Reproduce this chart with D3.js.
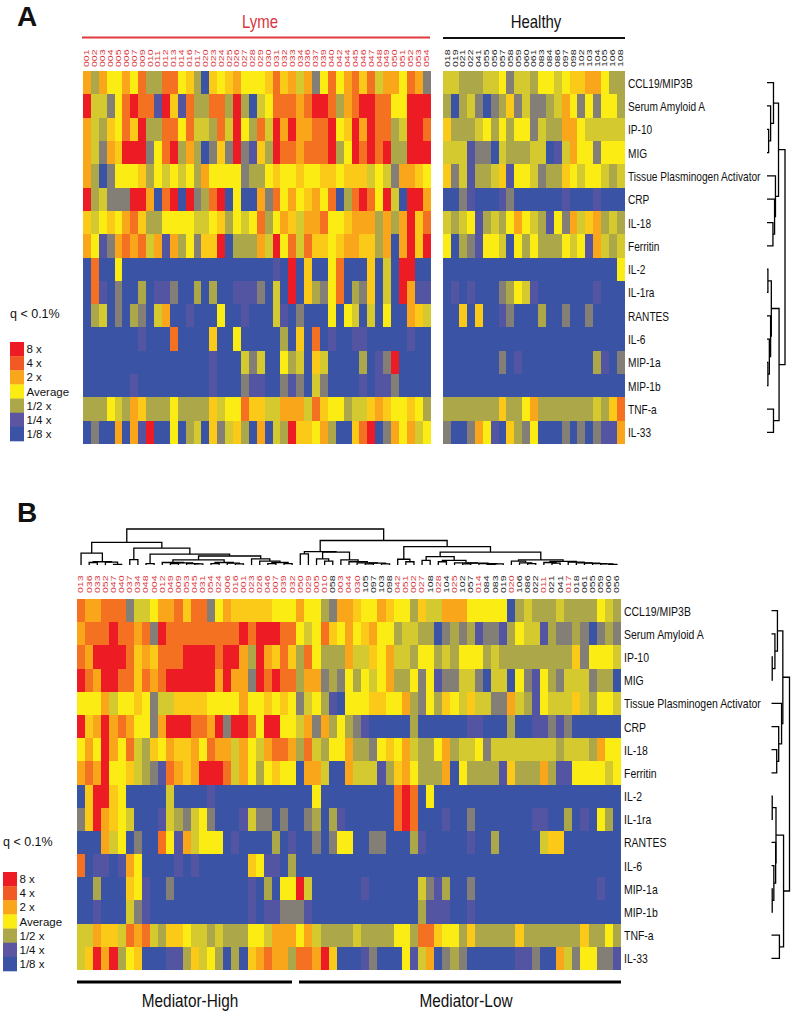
<!DOCTYPE html>
<html>
<head>
<meta charset="utf-8">
<script src="https://cdn.jsdelivr.net/npm/d3@7"></script>
<style>
  html, body { margin: 0; padding: 0; background: #fff; }
  svg { display: block; }
  text { font-family: "Liberation Sans", Arial, sans-serif; fill: #111; }
</style>
</head>
<body>
<div id="chart"></div>
<script>
const mediators = ['CCL19/MIP3B', 'Serum Amyloid A', 'IP-10', 'MIG', 'Tissue Plasminogen Activator', 'CRP',
  'IL-18', 'Ferritin', 'IL-2', 'IL-1ra', 'RANTES', 'IL-6', 'MIP-1a', 'MIP-1b', 'TNF-a', 'IL-33'];

const lymeIds = ['001','002','003','004','005','006','007','009','010','011','012','013','014','016','017','020','023','024','025','026','027','028',
  '029','030','031','032','033','034','036','037','039','040','042','044','045','046','047','048','049','050','051','052','053','054'];
const healthyIds = ['018','019','021','022','041','055','056','057','058','059','060','061','083','084','086','097','098','102','103','104','105','106','108'];
const clusteredIds = ['013','036','033','052','047','040','037','034','048','004','012','049','009','053','045','031','054','024','006','016',
  '001','023','026','046','007','039','032','050','029','005','010','058','003','044','030','105','097','103','098','042',
  '051','002','027','108','028','104','025','102','057','014','084','083','019','020','106','086','022','011','021','041',
  '017','018','061','055','059','060','056'];

// each digit is one cell, an index into levelLog2 (fold change vs. average, log2)
const levelLog2 = [-3, -2.2, -1.5, -1, -0.5, 0, 0.5, 1, 1.7, 3];

const lymeRows = [
  '7375575833885630656755' + '5686747258578684775872',
  '9442589881961833883930' + '4588878998378998855999',
  '7436586933885844384953' + '8497977889569798834998',
  '7427699925893730262921' + '6398878889359898933999',
  '7302555635454537555523' + '3565565566566645427765',
  '9342229970890923890500' + '7285756758038985940997',
  '6456578633555544563545' + '8357647785567773737968',
  '7512787847173526690333' + '7495848665677663707969',
  '0800500000000000000000' + '0010906005800060409900',
  '0810200301120030300111' + '2040906325803260409711',
  '0340203204700100050010' + '0041020005054040500764',
  '0000000100080000600500' + '0003060801001100000100',
  '0000000000000000100042' + '4005340640000301290000',
  '0000001000000000100021' + '1002120420000101120000',
  '3335437633353333645586' + '6447774865534467655653',
  '0200707190050340624630' + '7043966573006890275745'
];

const healthyRows = [
  '44333445244355456677533',
  '30342023624223475252553',
  '63334535355243377544444',
  '44412204333440147552555',
  '62413346155423365455434',
  '00210001200000010001000',
  '43451343575431527467343',
  '50321554053533354517434',
  '00000000000000000000005',
  '01010002354100000001000',
  '00606001200030020020000',
  '00000000000000000000000',
  '00000002010000000003102',
  '00000000000000000000000',
  '33333336335733333334368',
  '20027510632500020202117'
];

const clusteredRows = [
  '8778882445' + '7786882576' + '6666555755' + '3277655765' + '5364477755' + '5550343334' + '3333543',
  '7888988782' + '9888888888' + '9899988545' + '8657567553' + '4433023231' + '2213544132' + '2320232',
  '8799998676' + '8889999899' + '7397686385' + '3337446574' + '4355343555' + '3433333333' + '3625554',
  '9879988687' + '8999999797' + '7298988377' + '2325354573' + '3525122442' + '0440521532' + '4442330',
  '5557455652' + '4466665555' + '7556565245' + '3105556655' + '7325365464' + '4227431544' + '4643554',
  '9679787552' + '7999887929' + '9859955472' + '7353210000' + '0300000011' + '0003001121' + '2000000',
  '5759758436' + '5766758774' + '7547887384' + '3557332565' + '7433573445' + '2444444443' + '4443755',
  '7879556432' + '1876799984' + '7535655077' + '4007444136' + '7533370533' + '3316333731' + '1555545',
  '0699650000' + '0400001000' + '0000000005' + '0000000008' + '9805000000' + '0000000000' + '0000000',
  '2697654000' + '1432452000' + '1422020023' + '0310000008' + '9800010020' + '0000001100' + '3010530',
  '0007450200' + '8517455501' + '0000301002' + '0255002200' + '0310000010' + '0300000466' + '0000000',
  '8011017500' + '0010100000' + '0651103000' + '0000000000' + '0000000000' + '0000000000' + '0000000',
  '0030006510' + '0200000000' + '0103055940' + '0000010000' + '0042130020' + '0000000000' + '0000100',
  '0010004210' + '0000000000' + '0101122210' + '0000000000' + '0031110010' + '0000000000' + '0000000',
  '4476648784' + '3665443433' + '3554777574' + '3333433335' + '5388655363' + '3333633333' + '3363353',
  '4697935600' + '0113645303' + '0678773887' + '9600012000' + '5147023200' + '0000112007' + '4255221'
];

// dendrograms: [merge height, left, right], a plain number is a leaf
const rowTreeA = [1,
  [.64, [.36, 0, [.2, 1, [.09, 2, 3]]], [.47, 4, [.42, 5, [.33, 6, 7]]]],
  [.67, [.24, [.05, 8, 9], [.2, 10, [.13, 11, [.05, 12, 13]]]], [.36, 14, 15]]];

const rowTreeB = [1,
  [.63, [.33, 0, [.19, 1, [.04, 2, 3]]], [.56, 4, [.4, 5, [.29, 6, 7]]]],
  [.67, [.25, [.04, 8, 9], [.23, 10, [.13, 11, [.04, 12, 13]]]], [.44, 14, 15]]];

const columnTreeB = [1,
  [.63,
    [.33, 0, [.09, [.07, 1, 2], [.08, 3, [.02, 4, 5]]]],
    [.47, [.15, 6, 7], [.30, [.04, 8, 9],
      [.25,
        [.14, [.07, 10, [.06, [.04, 11, 12], [.04, 13, [.03, 14, 15]]]], [.07, [.04, 16, 17], [.05, 18, [.03, 19, 20]]]],
        [.17, 21, [.11, 22, [.07, [.04, 23, 24], [.04, 25, 26]]]]]]]],
  [.68,
    [.37, [.31, 27, 28], [.36, [.17, 29, [.11, 30, 31]], [.14, 32, [.09, 33, [.06, 34, [.05, [.03, 35, 36], [.03, 37, 38]]]]]]],
    [.51, [.16, 39, [.09, 40, 41]],
      [.36,
        [.23, [.13, 42, 43], [.13, [.09, 44, 45], [.06, 46, [.05, [.03, 47, 48], [.04, 49, [.03, [.02, 50, 51], 52]]]]]],
        [.14, [.11, 53, [.06, 54, [.04, 55, 56]]], [.1, [.07, 57, [.05, 58, 59]], [.08, 60, [.06, 61, [.05, 62, [.04, 63, [.03, 64, [.02, 65, 66]]]]]]]]]]]];

const legendLog2 = [3, 2, 1, 0, -1, -2, -3];
const legendLabels = ['8 x', '4 x', '2 x', 'Average', '1/2 x', '1/4 x', '1/8 x'];
const legendColors = ['#ed1c24', '#f15a24', '#faa61a', '#fbec14', '#aca84a', '#5b55a2', '#3a53a4'];

const width = 793, height = 1015;
const redText = '#d9363c';

const color = d3.scaleLinear().domain(legendLog2).range(legendColors);

const svg = d3.select('#chart').append('svg')
  .attr('width', width)
  .attr('height', height)
  .attr('viewBox', `0 0 ${width} ${height}`);

function drawCells(rows, ids, x0, x1, y0, y1) {
  const x = d3.scaleBand().domain(d3.range(ids.length)).range([x0, x1]);
  const y = d3.scaleBand().domain(d3.range(rows.length)).range([y0, y1]);
  const cells = rows.flatMap((row, r) => Array.from(row, (d, c) => ({ r, c, v: levelLog2[+d] })));

  svg.append('g')
    .attr('shape-rendering', 'crispEdges')
    .selectAll('rect')
    .data(cells)
    .join('rect')
    .attr('x', d => x(d.c))
    .attr('y', d => y(d.r))
    .attr('width', x.bandwidth())
    .attr('height', y.bandwidth())
    .attr('fill', d => color(d.v));
  return { x, y };
}

function drawIds(ids, x, bottom) {
  // small rotated patient ids, stretched along the text like the original
  svg.append('g').selectAll('text')
    .data(ids)
    .join('text')
    .attr('transform', (d, i) => `translate(${x(i) + x.bandwidth() / 2 + 2.4},${bottom}) rotate(-90) scale(1.5,0.95)`)
    .style('font-size', '7px')
    .style('fill', d => healthyIds.includes(d) ? '#222' : redText)
    .text(d => d);
}

// no narrow face installed, so labels are squeezed horizontally
function drawMediators(y, xPos, squeeze) {
  svg.append('g').selectAll('text')
    .data(mediators)
    .join('text')
    .attr('transform', (d, i) => `translate(${xPos},${y(i) + y.bandwidth() / 2 + 5}) scale(${squeeze},1)`)
    .style('font-size', '13.6px')
    .text(d => d);
}

// horizontal = leaves stacked along y, heights going right
function drawTree(tree, leafPos, heightScale, horizontal) {
  const root = d3.hierarchy(tree, d => Array.isArray(d) ? d.slice(1) : null);
  root.eachAfter(n => {
    n.h = n.children ? n.data[0] : 0;
    n.pos = n.children ? d3.mean(n.children, c => c.pos) : leafPos(n.data);
  });
  const pt = (pos, h) => horizontal ? [heightScale(h), pos] : [pos, heightScale(h)];
  const line = d3.line();
  svg.append('g').selectAll('path')
    .data(root.descendants().filter(n => n.children))
    .join('path')
    .attr('d', n => {
      const [a, b] = n.children;
      return line([pt(a.pos, a.h), pt(a.pos, n.h), pt(b.pos, n.h), pt(b.pos, b.h)]);
    })
    .attr('fill', 'none')
    .attr('stroke', '#000')
    .attr('stroke-width', 1.3);
}

function drawLegend(xPos, qY, top) {
  svg.append('text')
    .attr('x', xPos)
    .attr('y', qY)
    .style('font-size', '12.5px')
    .text('q < 0.1%');
  const y = d3.scaleBand().domain(legendLabels).range([top, top + 99]);
  const g = svg.append('g').selectAll('g')
    .data(legendLabels)
    .join('g');
  g.append('rect')
    .attr('x', xPos)
    .attr('y', d => y(d))
    .attr('width', 14)
    .attr('height', y.bandwidth() + 0.3)
    .attr('fill', (d, i) => legendColors[i]);
  g.append('text')
    .attr('x', xPos + 16.5)
    .attr('y', d => y(d) + y.bandwidth() / 2 + 4)
    .style('font-size', '11.5px')
    .text(d => d);
}

function bigLabel(txt, x, y, size, fill) {
  svg.append('text')
    .attr('transform', `translate(${x},${y}) scale(0.83,1)`)
    .attr('text-anchor', 'middle')
    .style('font-size', size + 'px')
    .style('fill', fill || '#111')
    .text(txt);
}

function bar(x0, x1, y, w, stroke) {
  svg.append('line')
    .attr('x1', x0).attr('x2', x1)
    .attr('y1', y).attr('y2', y)
    .attr('stroke', stroke)
    .attr('stroke-width', w);
}

function panelLetter(txt, x, y) {
  svg.append('text')
    .attr('x', x)
    .attr('y', y)
    .style('font-size', '28px')
    .style('font-weight', 'bold')
    .text(txt);
}

// panel A
panelLetter('A', 17, 26);
bigLabel('Lyme', 260, 28, 18, redText);
bigLabel('Healthy', 536, 28, 18);
bar(82, 430, 37.5, 2, '#e0393f');
bar(443, 625, 38, 2, '#111');

const lyme = drawCells(lymeRows, lymeIds, 83, 430.5, 71, 444);
const healthy = drawCells(healthyRows, healthyIds, 443.3, 624.8, 71, 444);
drawIds(lymeIds, lyme.x, 67);
drawIds(healthyIds, healthy.x, 67);
drawMediators(lyme.y, 628, 0.745);
drawTree(rowTreeA, i => lyme.y(i) + lyme.y.bandwidth() / 2,
  d3.scaleLinear().domain([0, 1]).range([767, 785]), true);
drawLegend(10, 318, 342);

// panel B
panelLetter('B', 17, 522);
const clustered = drawCells(clusteredRows, clusteredIds, 77, 621, 599, 970);
drawIds(clusteredIds, clustered.x, 593);
drawMediators(clustered.y, 624, 0.77);
drawTree(rowTreeB, i => clustered.y(i) + clustered.y.bandwidth() / 2,
  d3.scaleLinear().domain([0, 1]).range([771.5, 789.5]), true);
drawTree(columnTreeB, i => clustered.x(i) + clustered.x.bandwidth() / 2,
  d3.scaleLinear().domain([0, 1]).range([565, 529]), false);
drawLegend(3, 846, 872);

bar(77, 292, 982, 3, '#000');
bar(299, 621, 982, 3, '#000');
bigLabel('Mediator-High', 190, 1007, 18.5);
bigLabel('Mediator-Low', 466, 1007, 18.5);
</script>
</body>
</html>
